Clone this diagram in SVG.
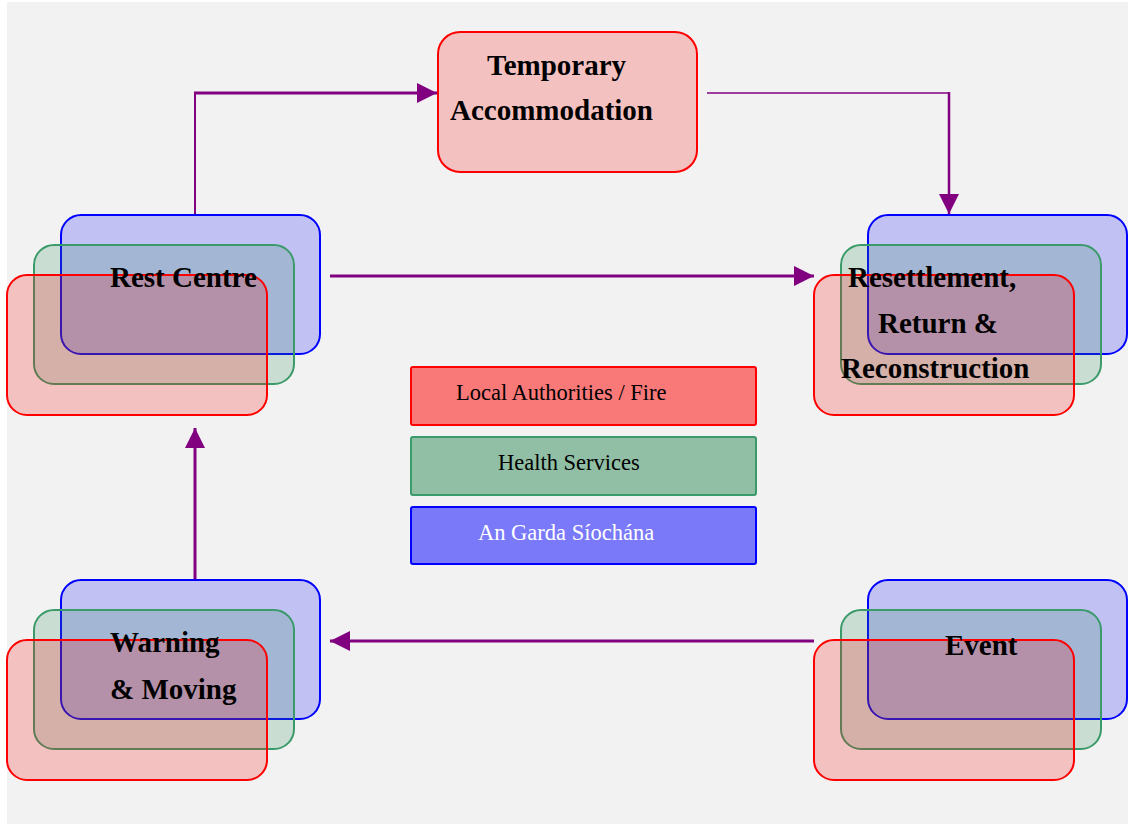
<svg xmlns="http://www.w3.org/2000/svg" width="1132" height="824" viewBox="0 0 1132 824">
  <style>
    .lab { font-family: "Liberation Serif", "Times New Roman", serif; font-size: 29px; font-weight: bold; fill: #000; }
    .leg { font-family: "Liberation Serif", "Times New Roman", serif; font-size: 22.5px; fill: #000; }
    .b { fill: #0000ff; fill-opacity: 0.2; stroke: #0000ff; stroke-width: 2; }
    .g { fill: #2e8b57; fill-opacity: 0.2; stroke: #3a9a6a; stroke-width: 2; }
    .r { fill: #ff0000; fill-opacity: 0.2; stroke: #ff0000; stroke-width: 2; }
    .lr { fill: #ff0000; fill-opacity: 0.5; stroke: #ff0000; stroke-width: 2; }
    .lg { fill: #2e8b57; fill-opacity: 0.5; stroke: #3a9a6a; stroke-width: 2; }
    .lb { fill: #0000ff; fill-opacity: 0.5; stroke: #0000ff; stroke-width: 2; }
    .c { fill: none; stroke: #800080; }
  </style>
  <defs>
    <marker id="arrow" markerUnits="userSpaceOnUse" markerWidth="20" markerHeight="20" refX="20" refY="10" orient="auto">
      <path d="M0,0 L20,10 L0,20 z" fill="#800080"/>
    </marker>
  </defs>

  <rect x="0" y="0" width="1132" height="824" fill="#ffffff"/>
  <rect x="7" y="2" width="1121" height="822" fill="#f2f2f2"/>

  <!-- connectors -->
  <g id="connectors">
    <line class="c" x1="195" y1="215" x2="195" y2="93" stroke-width="2"/>
    <line class="c" x1="194" y1="93" x2="437" y2="93" stroke-width="3" marker-end="url(#arrow)"/>
    <line class="c" x1="707" y1="93" x2="949" y2="93" stroke-width="1.6"/>
    <line class="c" x1="949" y1="92" x2="949" y2="214" stroke-width="2.5" marker-end="url(#arrow)"/>
    <line class="c" x1="330" y1="276" x2="814" y2="276" stroke-width="3" marker-end="url(#arrow)"/>
    <line class="c" x1="814" y1="641" x2="330" y2="641" stroke-width="3" marker-end="url(#arrow)"/>
    <line class="c" x1="195" y1="580" x2="195" y2="428" stroke-width="3" marker-end="url(#arrow)"/>
  </g>

  <!-- Temporary Accommodation -->
  <g id="temporary-accommodation">
    <rect class="r" x="438" y="32" width="259" height="140" rx="22"/>
    <text class="lab" x="487" y="75">Temporary</text>
    <text class="lab" x="450" y="120">Accommodation</text>
  </g>

  <!-- Rest Centre -->
  <g id="rest-centre">
    <rect class="b" x="61" y="215" width="259" height="139" rx="20"/>
    <rect class="g" x="34" y="245" width="260" height="139" rx="20"/>
    <rect class="r" x="7" y="275" width="260" height="140" rx="20"/>
    <text class="lab" x="110" y="287">Rest Centre</text>
  </g>

  <!-- Resettlement, Return & Reconstruction -->
  <g id="resettlement">
    <rect class="b" x="868" y="215" width="259" height="139" rx="20"/>
    <rect class="g" x="841" y="245" width="260" height="139" rx="20"/>
    <rect class="r" x="814" y="275" width="260" height="140" rx="20"/>
    <text class="lab" x="848" y="287">Resettlement,</text>
    <text class="lab" x="878" y="333">Return &amp;</text>
    <text class="lab" x="841" y="378">Reconstruction</text>
  </g>

  <!-- Warning & Moving -->
  <g id="warning-moving">
    <rect class="b" x="61" y="580" width="259" height="139" rx="20"/>
    <rect class="g" x="34" y="610" width="260" height="139" rx="20"/>
    <rect class="r" x="7" y="640" width="260" height="140" rx="20"/>
    <text class="lab" x="110" y="652">Warning</text>
    <text class="lab" x="110" y="699">&amp; Moving</text>
  </g>

  <!-- Event -->
  <g id="event">
    <rect class="b" x="868" y="580" width="259" height="139" rx="20"/>
    <rect class="g" x="841" y="610" width="260" height="139" rx="20"/>
    <rect class="r" x="814" y="640" width="260" height="140" rx="20"/>
    <text class="lab" x="945" y="655">Event</text>
  </g>

  <!-- Legend -->
  <g id="legend-local-authorities">
    <rect class="lr" x="411" y="367" width="345" height="58" rx="2"/>
    <text class="leg" x="456" y="400">Local Authorities / Fire</text>
  </g>
  <g id="legend-health-services">
    <rect class="lg" x="411" y="437" width="345" height="58" rx="2"/>
    <text class="leg" x="498" y="470">Health Services</text>
  </g>
  <g id="legend-garda">
    <rect class="lb" x="411" y="507" width="345" height="57" rx="2"/>
    <text class="leg" x="478" y="540" style="fill:#ffffff">An Garda Síochána</text>
  </g>
</svg>
